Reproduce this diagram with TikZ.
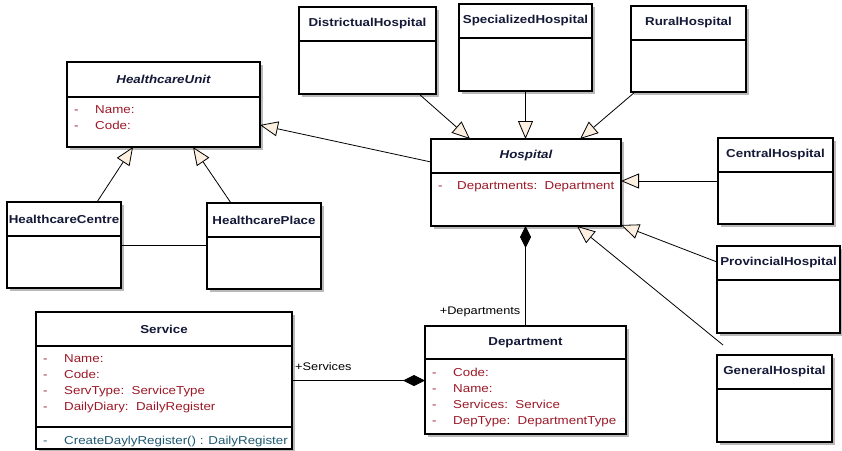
\documentclass[tikz,border=0pt]{standalone}
\usepackage{fontspec}
\setmainfont[FakeStretch=1.16]{Liberation Sans}
\usetikzlibrary{arrows.meta,calc}
\definecolor{attrc}{RGB}{155,25,40}
\definecolor{methc}{RGB}{30,90,115}
\definecolor{titlec}{RGB}{20,25,55}
\definecolor{creamc}{RGB}{253,240,224}
\definecolor{shadc}{RGB}{185,185,185}
\tikzset{
 clsbox/.style={draw, line width=1.1pt, fill=white, inner sep=0pt, outer sep=0pt, rectangle},
 boxline/.style={line width=1.1pt},
 ttl/.style={font=\fontsize{11.5}{13}\selectfont\bfseries, text=titlec, inner sep=0pt},
 txt/.style={font=\fontsize{11.5}{13}\selectfont, inner sep=0pt, text height=8.5pt, text depth=2.5pt},
 inh/.style={line width=0.8pt, -{Triangle[length=18pt, width=15pt, fill=creamc]}},
 comp/.style={line width=0.8pt, -{Diamond[length=22pt, width=11pt, fill=black]}},
 lbl/.style={font=\fontsize{11}{13}\selectfont, inner sep=0pt},
 plain/.style={line width=0.8pt},
}
\newcommand{\umlcls}[7]{%
  \fill[shadc] (#2+3,#3+3) rectangle ++(#4,#5);
  \node[clsbox, minimum width=#4pt, minimum height=#5pt, anchor=north west] (#1) at (#2,#3) {};
  \draw[boxline] ($(#1.north west)+(0,#6)$) -- ($(#1.north east)+(0,#6)$);
  \node[ttl] at ($(#1.north)+(0,#6/2)$) {#7};
}
\newcommand{\umlattr}[4]{%
  \node[txt, text=#3, anchor=west] at ($(#1.north west)+(7,#2)$) {-};
  \node[txt, text=#3, anchor=west] at ($(#1.north west)+(28,#2)$) {#4};
}
\begin{document}
\begin{tikzpicture}[x=1pt,y=-1pt]
\useasboundingbox (0,0) rectangle (842,450);
% classes
\umlcls{hcu}{67}{62}{193}{85}{35}{\itshape HealthcareUnit}
\umlattr{hcu}{48}{attrc}{Name:}
\umlattr{hcu}{64}{attrc}{Code:}
\umlcls{hcc}{7}{202}{114}{86}{34}{HealthcareCentre}
\umlcls{hcp}{207}{203}{114}{86}{34}{HealthcarePlace}
\umlcls{dist}{299}{7}{137}{87}{34}{DistrictualHospital}
\umlcls{spec}{459}{4}{133}{87}{34}{SpecializedHospital}
\umlcls{rural}{631}{6}{115}{86}{34}{RuralHospital}
\umlcls{hosp}{431}{139}{190}{87}{34}{\itshape Hospital}
\node[txt, text=attrc, anchor=west] at ($(hosp.north west)+(7,47)$) {-};
\node[txt, text=attrc, anchor=west] at ($(hosp.north west)+(26,47)$) {Departments:\ \ Department};
\umlcls{central}{718}{138}{115}{86}{34}{CentralHospital}
\umlcls{prov}{717}{246}{123}{87}{34}{ProvincialHospital}
\umlcls{gen}{717}{355}{115}{87}{34}{GeneralHospital}
\umlcls{serv}{36}{312}{256}{137}{34}{Service}
\draw[boxline] ($(serv.north west)+(0,115)$) -- ($(serv.north east)+(0,115)$);
\umlattr{serv}{47}{attrc}{Name:}
\umlattr{serv}{63}{attrc}{Code:}
\umlattr{serv}{79}{attrc}{ServType:\ \ ServiceType}
\umlattr{serv}{95}{attrc}{DailyDiary:\ \ DailyRegister}
\umlattr{serv}{129}{methc}{CreateDaylyRegister() : DailyRegister}
\umlcls{dept}{425}{326}{201}{108}{33}{Department}
\umlattr{dept}{47}{attrc}{Code:}
\umlattr{dept}{63}{attrc}{Name:}
\umlattr{dept}{79}{attrc}{Services:\ \ Service}
\umlattr{dept}{95}{attrc}{DepType:\ \ DepartmentType}
% connectors
\draw[inh] ($(hcc.north west)+(90,0)$) -- ($(hcu.south west)+(66,0)$);
\draw[inh] ($(hcp.north west)+(24,0)$) -- ($(hcu.south west)+(126,0)$);
\draw[plain] (hcc.east) -- (hcc.east -| hcp.west);
\draw[inh] ($(hosp.north west)+(0,23)$) -- ($(hcu.north east)+(0,63)$);
\draw[inh] ($(dist.south west)+(120,0)$) -- ($(hosp.north west)+(39,0)$);
\draw[inh] (spec.south) -- (spec.south |- hosp.north);
\draw[inh] ($(rural.south west)+(4,0)$) -- ($(hosp.north west)+(149,0)$);
\draw[inh] (central.west) -- (central.west -| hosp.east);
\draw[inh] ($(prov.north west)+(0,16)$) -- ($(hosp.south east)+(0,-1)$);
\draw[inh] ($(gen.north west)+(6,-10)$) -- ($(hosp.south west)+(146,0)$);
\draw[comp] (dept.north) -- (dept.north |- hosp.south);
\draw[comp] (serv.east) -- (serv.east -| dept.west);
% labels
\node[lbl, anchor=west] (lserv) at ($(serv.east)+(3,-14)$) {+Services};
\node[lbl, anchor=east] (ldept) at ($(dept.north)+(-5,-14)$) {+Departments};
\end{tikzpicture}
\end{document}
